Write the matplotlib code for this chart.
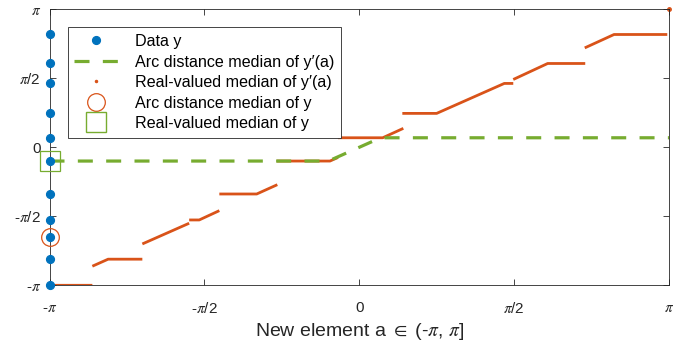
import numpy as np
import matplotlib
matplotlib.use("Agg")
import matplotlib.pyplot as plt
from matplotlib.lines import Line2D

plt.rcParams['font.family'] = ['Liberation Sans', 'DejaVu Sans']
plt.rcParams['mathtext.fontset'] = 'stix'
plt.rcParams['lines.scale_dashes'] = False

PI = np.pi
BLUE = '#0072BD'
ORANGE = '#D95319'
GREEN = '#77AC30'
AXC = '#262626'

# ---- data ----
data_x = -PI
data_y = [-PI, -2.547, -2.033, -1.654, -1.063, -0.313, 0.217, 0.772, 1.454, 1.908, 2.568]
arc_median_y = -2.033
real_median_y = -0.313

# arc distance median of y'(a)
green_a = [-PI, -0.313, 0.217, PI]
green_v = [-0.313, -0.313, 0.217, 0.217]

# real-valued median of y'(a): pieces separated by NaN
nan = np.nan
orange_a = [-PI, -2.707, nan,
            -2.707, -2.547, -2.200, nan,
            -2.200, -1.725, nan,
            -1.725, -1.623, -1.419, nan,
            -1.419, -1.040, -0.831, nan,
            -0.837, -0.297, -0.216, nan,
            -0.216, 0.238, 0.447, nan,
            0.437, 0.785, 1.471, 1.562, nan,
            1.562, 1.911, 2.292, nan,
            2.287, 2.584, 3.124]
orange_v = [-PI, -PI, nan,
            -2.707, -2.547, -2.547, nan,
            -2.200, -1.729, nan,
            -1.654, -1.654, -1.442, nan,
            -1.063, -1.063, -0.851, nan,
            -0.313, -0.313, -0.232, nan,
            0.217, 0.217, 0.431, nan,
            0.772, 0.772, 1.454, 1.454, nan,
            1.544, 1.908, 1.908, nan,
            2.263, 2.568, 2.568]
orange_end_a = [PI]
orange_end_v = [PI]

xticks = [-PI, -PI / 2, 0, PI / 2, PI]
xtick_labels = ['-$\\pi$', '-$\\pi$/2', '0', '$\\pi$/2', '$\\pi$']
legend_labels = ['Data y', 'Arc distance median of y\u2032(a)', 'Real-valued median of y\u2032(a)',
                 'Arc distance median of y', 'Real-valued median of y']
xlabel = 'New element a $\\in$ (-$\\pi$, $\\pi$]'

# ---- figure ----
fig = plt.figure(figsize=(6.73, 3.43), dpi=100)
ax = fig.add_axes([49.5 / 673, 1 - 285.3 / 343, 619.5 / 673, 276 / 343])
ax.set_xlim(-PI, PI)
ax.set_ylim(-PI, PI)

ax.plot(orange_a, orange_v, color=ORANGE, lw=2.0, solid_capstyle='butt', zorder=2)
ax.plot(orange_end_a, orange_end_v, ls='none', marker='.', ms=5, color=ORANGE, clip_on=False, zorder=2)
ax.plot(green_a, green_v, color=GREEN, lw=2.3, dashes=(10.8, 9.6), dash_capstyle='butt', zorder=3)
ax.plot(np.full(len(data_y), data_x), data_y, ls='none', marker='o', ms=5.6, color=BLUE,
        clip_on=False, zorder=4)
ax.plot([data_x], [arc_median_y], ls='none', marker='o', ms=12.7, mfc='none', mec=ORANGE,
        mew=0.9, clip_on=False, zorder=5)
ax.plot([data_x], [real_median_y], ls='none', marker='s', ms=15, mfc='none', mec=GREEN,
        mew=0.9, clip_on=False, zorder=5)

ax.set_xticks(xticks)
ax.set_xticklabels(xtick_labels)
ax.set_yticks(xticks)
ax.set_yticklabels(xtick_labels)
ax.tick_params(direction='in', length=4.5, width=0.6, top=True, right=True,
               labelsize=11, colors=AXC)
ax.tick_params(axis='x', pad=11)
ax.tick_params(axis='y', pad=6)
for s in ax.spines.values():
    s.set_color(AXC)
    s.set_linewidth(0.6)

ax.set_xlabel(xlabel, fontsize=14, color=AXC, labelpad=4)

handles = [
    Line2D([], [], ls='none', marker='o', ms=5.6, color=BLUE),
    Line2D([], [], color=GREEN, lw=2.3, dashes=(10.8, 9.6), dash_capstyle='butt'),
    Line2D([], [], ls='none', marker='.', ms=3, color=ORANGE),
    Line2D([], [], ls='none', marker='o', ms=12.7, mfc='none', mec=ORANGE, mew=0.9),
    Line2D([], [], ls='none', marker='s', ms=15, mfc='none', mec=GREEN, mew=1.0),
]
leg = ax.legend(handles, legend_labels, loc='upper left',
                bbox_to_anchor=((67.7 - 49.5) / 619.5, (285.3 - 27.3) / 276),
                borderaxespad=0, fontsize=11.6, fancybox=False, framealpha=1,
                edgecolor=AXC, handlelength=2.73, handletextpad=1.0,
                labelspacing=0.34, borderpad=0.42)
leg.get_frame().set_linewidth(0.6)
leg.set_zorder(10)

fig.savefig('out.png', dpi=100)
